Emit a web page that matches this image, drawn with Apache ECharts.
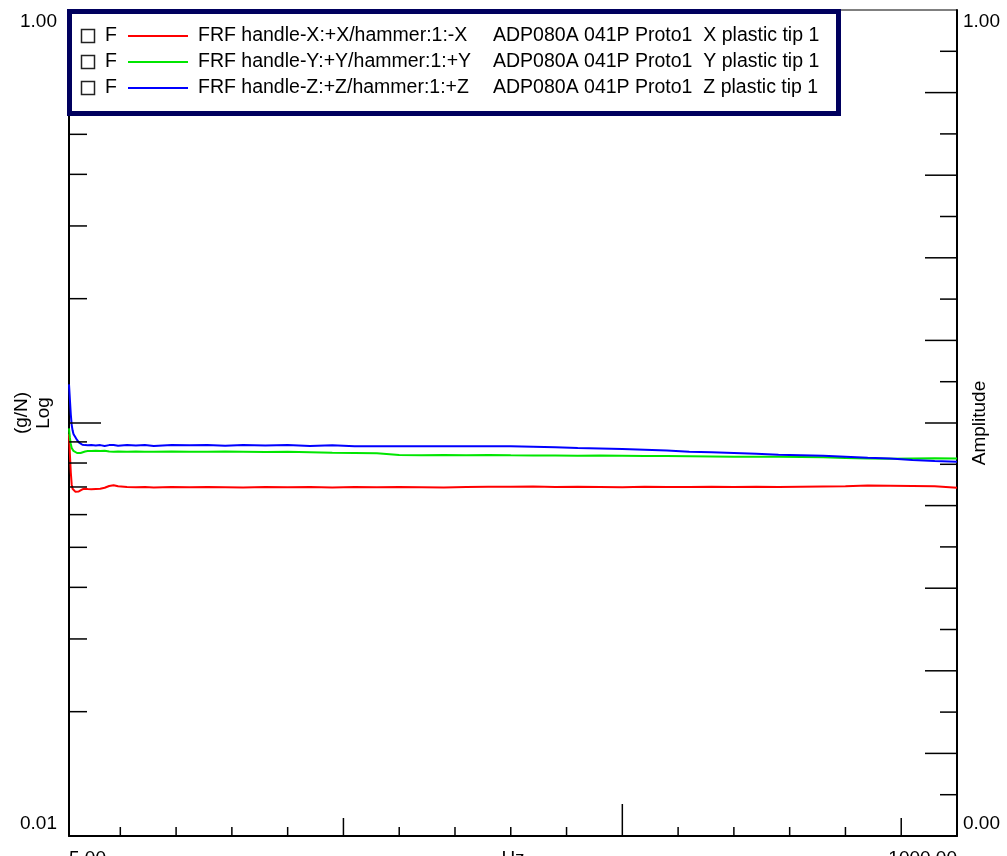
<!DOCTYPE html>
<html><head><meta charset="utf-8">
<script src="https://cdn.jsdelivr.net/npm/echarts@6/dist/echarts.min.js"></script>
<style>html,body{margin:0;padding:0;background:#fff}#c{width:1007px;height:856px}</style>
</head><body><div id="c"></div>
<script>
// ---------- data ----------
const freqHz = [5,6,7,8,9,10,12,14,16,18,20,23,26,30,35,40,45,50,55,60,70,80,90,100,120,140,160,180,200,225,250,275,300,325,350,375,400,425,450,475,500,525,550,575,600,625,650,675,700,725,750,775,800,825,850,875,900,925,950,975,1000];
const ampX = [0.094,0.084,0.076,0.071,0.0693,0.0688,0.0682,0.0680,0.0683,0.0687,0.0691,0.0693,0.0692,0.0691,0.0692,0.0693,0.0697,0.0704,0.0707,0.0703,0.0700,0.0699,0.0700,0.0698,0.0700,0.0699,0.0700,0.0699,0.0698,0.0700,0.0699,0.0700,0.0698,0.0700,0.0699,0.0700,0.0699,0.0698,0.0700,0.0701,0.0701,0.0702,0.0700,0.0701,0.0700,0.0699,0.0701,0.0700,0.0700,0.0701,0.0700,0.0701,0.0700,0.0701,0.0702,0.0703,0.0706,0.0705,0.0704,0.0703,0.0697];
const ampY = [0.097,0.092,0.089,0.087,0.0862,0.0856,0.0850,0.0846,0.0845,0.0846,0.0850,0.0853,0.0855,0.0856,0.0857,0.0855,0.0857,0.0853,0.0852,0.0853,0.0852,0.0853,0.0852,0.0852,0.0853,0.0852,0.0852,0.0853,0.0852,0.0851,0.0852,0.0850,0.0847,0.0846,0.0845,0.0837,0.0836,0.0837,0.0836,0.0837,0.0835,0.0834,0.0834,0.0833,0.0834,0.0833,0.0832,0.0832,0.0831,0.0830,0.0829,0.0829,0.0828,0.0827,0.0826,0.0823,0.0821,0.0819,0.0821,0.0822,0.0820];
const ampZ = [0.124,0.114,0.105,0.099,0.096,0.094,0.0925,0.0910,0.0898,0.0890,0.0886,0.0884,0.0883,0.0884,0.0882,0.0884,0.0880,0.0884,0.0884,0.0881,0.0884,0.0882,0.0884,0.0880,0.0884,0.0883,0.0884,0.0881,0.0884,0.0882,0.0884,0.0880,0.0883,0.0879,0.0879,0.0878,0.0879,0.0878,0.0879,0.0878,0.0878,0.0876,0.0873,0.0870,0.0868,0.0865,0.0862,0.0858,0.0852,0.0849,0.0846,0.0842,0.0838,0.0836,0.0833,0.0829,0.0824,0.0820,0.0814,0.0809,0.0806];

const legendPrefix = 'F';
const legendChannels = ['FRF handle-X:+X/hammer:1:-X','FRF handle-Y:+Y/hammer:1:+Y','FRF handle-Z:+Z/hammer:1:+Z'];
const legendDescriptions = ['ADP080A 041P Proto1  X plastic tip 1','ADP080A 041P Proto1  Y plastic tip 1','ADP080A 041P Proto1  Z plastic tip 1'];

const xTickLabels = [5, 1000];
const xMinorTicks = [62.5,125,187.5,250,375,437.5,500,562.5,687.5,750,812.5,875];
const xMidTicks = [312.5,937.5];
const xMajorTicks = [625];
const xAxisName = 'Hz';

const yLogLabels = [0.01, 1];
const yLogMinorTicks = [0.02,0.03,0.04,0.05,0.06,0.07,0.08,0.09,0.2,0.3,0.4,0.5,0.6,0.7,0.8,0.9];
const yLogMajorTicks = [0.1];
const yLeftName = '(g/N)\nLog';

const yLinLabels = [0, 1];
const yLinMinorTicks = [0.05,0.15,0.25,0.35,0.45,0.55,0.65,0.75,0.85,0.95];
const yLinMajorTicks = [0.1,0.2,0.3,0.4,0.5,0.6,0.7,0.8,0.9];
const yRightName = 'Amplitude';

// ---------- styling ----------
const FONT = "'Liberation Sans', Arial, sans-serif";
const FS = 19.5;
const colors = ['#ff0000', '#00e600', '#0000ff'];
const X_MIN = 5, X_MAX = 1000, Y_MIN = 0.01, Y_MAX = 1;

function tickSeries(name, pts, yIdx, dir, len) {
  return {
    type: 'custom', name: name, xAxisIndex: 0, yAxisIndex: yIdx, silent: true, z: 5,
    data: pts,
    renderItem: function (params, api) {
      const p = api.coord([api.value(0), api.value(1)]);
      let q;
      if (dir === 'up') q = [p[0], p[1] - len];
      else if (dir === 'right') q = [p[0] + len, p[1]];
      else q = [p[0] - len, p[1]];
      return { type: 'line', shape: { x1: p[0], y1: p[1], x2: q[0], y2: q[1] },
               style: { stroke: '#000', lineWidth: 1.5 } };
    }
  };
}

const lineSeries = [ampX, ampY, ampZ].map((arr, i) => ({
  type: 'line', name: legendChannels[i], xAxisIndex: 0, yAxisIndex: 0,
  showSymbol: false, symbol: 'none', animation: false,
  lineStyle: { color: colors[i], width: 2 }, itemStyle: { color: colors[i] },
  data: freqHz.map((f, k) => [f, arr[k]]), z: 3
}));

const series = lineSeries.concat([
  tickSeries('xMinor', xMinorTicks.map(v => [v, Y_MIN]), 0, 'up', 9),
  tickSeries('xMid', xMidTicks.map(v => [v, Y_MIN]), 0, 'up', 18),
  tickSeries('xMajor', xMajorTicks.map(v => [v, Y_MIN]), 0, 'up', 32),
  tickSeries('yLogMinor', yLogMinorTicks.map(v => [X_MIN, v]), 0, 'right', 18),
  tickSeries('yLogMajor', yLogMajorTicks.map(v => [X_MIN, v]), 0, 'right', 32),
  tickSeries('yLinMinor', yLinMinorTicks.map(v => [X_MAX, v]), 1, 'left', 17),
  tickSeries('yLinMajor', yLinMajorTicks.map(v => [X_MAX, v]), 1, 'left', 32)
]);

// legend graphic
const legendEls = [];
legendEls.push({ type: 'rect', z: 100, shape: { x: 69.5, y: 11.5, width: 769, height: 102 },
  style: { fill: '#fff', stroke: '#00005e', lineWidth: 5 } });
const rowY = [36, 62, 88];
legendChannels.forEach((lab, i) => {
  const y = rowY[i];
  legendEls.push({ type: 'rect', z: 101, shape: { x: 81.5, y: y - 6.5, width: 13, height: 13 },
    style: { fill: '#fff', stroke: '#222', lineWidth: 1.5 } });
  legendEls.push({ type: 'text', z: 101, x: 105, y: y, style: { text: legendPrefix, font: FS + 'px ' + FONT, fill: '#000', verticalAlign: 'middle' } });
  legendEls.push({ type: 'line', z: 101, shape: { x1: 128, y1: y, x2: 188, y2: y }, style: { stroke: colors[i], lineWidth: 2 } });
  legendEls.push({ type: 'text', z: 101, x: 198, y: y, style: { text: lab, font: FS + 'px ' + FONT, fill: '#000', verticalAlign: 'middle' } });
  legendEls.push({ type: 'text', z: 101, x: 493, y: y, style: { text: legendDescriptions[i], font: FS + 'px ' + FONT, fill: '#000', verticalAlign: 'middle' } });
});

const txt = { color: '#000', fontSize: 19, fontFamily: FONT };

const option = {
  animation: false,
  backgroundColor: '#fff',
  grid: { left: 69, right: 50, top: 10, bottom: 20, show: true, borderColor: '#000', borderWidth: 1,
          containLabel: false, outerBoundsMode: 'none' },
  xAxis: [{
    type: 'value', min: X_MIN, max: X_MAX, position: 'bottom',
    axisLine: { show: true, lineStyle: { color: '#000', width: 2 } },
    axisTick: { show: false },
    splitLine: { show: false },
    axisLabel: Object.assign({ customValues: xTickLabels, formatter: v => Number(v).toFixed(2),
      alignMinLabel: 'left', alignMaxLabel: 'right', margin: 13, showMinLabel: true, showMaxLabel: true }, txt),
    name: xAxisName, nameLocation: 'middle', nameGap: 13, nameMoveOverlap: false,
    nameTextStyle: Object.assign({ verticalAlign: 'top' }, txt)
  }],
  yAxis: [{
    type: 'log', logBase: 10, min: Y_MIN, max: Y_MAX, position: 'left',
    axisLine: { show: true, lineStyle: { color: '#000', width: 2 } },
    axisTick: { show: false }, splitLine: { show: false }, minorTick: { show: false },
    axisLabel: Object.assign({ customValues: yLogLabels, formatter: v => Number(v).toFixed(2), margin: 12,
      verticalAlignMinLabel: 'bottom', verticalAlignMaxLabel: 'top', lineHeight: 24, showMinLabel: true, showMaxLabel: true }, txt),
    name: yLeftName, nameLocation: 'middle', nameRotate: 90, nameGap: 14, nameMoveOverlap: false,
    nameTextStyle: Object.assign({ lineHeight: 22, align: 'center', padding: [0, 0, 0, 20] }, txt)
  }, {
    type: 'value', min: 0, max: 1, position: 'right',
    axisLine: { show: true, lineStyle: { color: '#000', width: 2 } },
    axisTick: { show: false }, splitLine: { show: false },
    axisLabel: Object.assign({ customValues: yLinLabels, formatter: v => Number(v).toFixed(2), margin: 6,
      verticalAlignMinLabel: 'bottom', verticalAlignMaxLabel: 'top', lineHeight: 24, showMinLabel: true, showMaxLabel: true }, txt),
    name: yRightName, nameLocation: 'middle', nameRotate: 90, nameGap: 13, nameMoveOverlap: false, nameTextStyle: txt
  }],
  graphic: legendEls,
  series: series
};

const chart = echarts.init(document.getElementById('c'), null, { renderer: 'canvas' });
chart.setOption(option);
</script></body></html>
